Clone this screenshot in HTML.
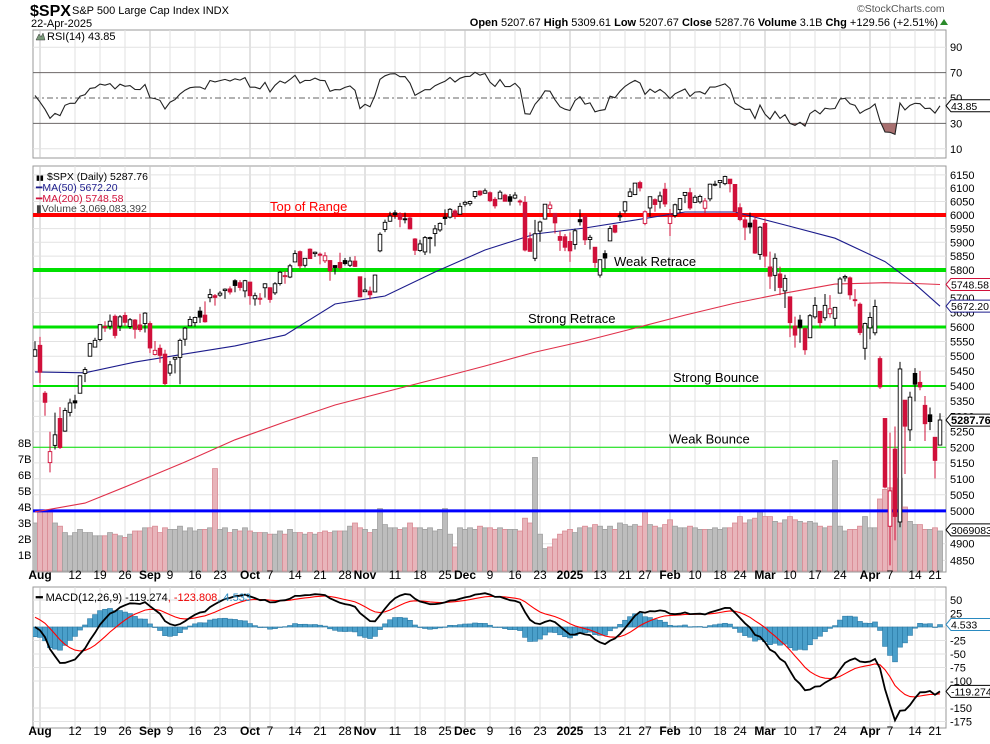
<!DOCTYPE html>
<html><head><meta charset="utf-8">
<style>
html,body{margin:0;padding:0;background:#fff;}
svg{display:block;font-family:"Liberation Sans",Arial,sans-serif;}
</style></head>
<body>
<svg id="chart" width="990" height="744" viewBox="0 0 990 744" xmlns="http://www.w3.org/2000/svg">
<defs>
<clipPath id="clipMain"><rect x="33" y="166" width="913" height="406"/></clipPath>
<clipPath id="clipRsi"><rect x="33" y="30" width="913" height="128"/></clipPath>
<clipPath id="clipRsiLow"><rect x="33" y="123.4" width="913" height="35"/></clipPath>
<clipPath id="clipRsiHigh"><rect x="33" y="30" width="913" height="42.6"/></clipPath>
<clipPath id="clipMacd"><rect x="33" y="587" width="913" height="141"/></clipPath>
</defs>
<g id="header">
<text x="30" y="16" font-size="16" font-weight="bold">$SPX</text>
<text x="72" y="14" font-size="11">S&amp;P 500 Large Cap Index  INDX</text>
<text x="31" y="27" font-size="11">22-Apr-2025</text>
<text x="857" y="12" font-size="10.5" fill="#555">©StockCharts.com</text>
<text x="938" y="26" font-size="11" text-anchor="end"><tspan font-weight="bold">Open</tspan> 5207.67  <tspan font-weight="bold">High</tspan> 5309.61  <tspan font-weight="bold">Low</tspan> 5207.67  <tspan font-weight="bold">Close</tspan> 5287.76  <tspan font-weight="bold">Volume</tspan> 3.1B  <tspan font-weight="bold">Chg</tspan> +129.56 (+2.51%)</text>
<polygon points="940,25 948,25 944,19" fill="#2a8a2a"/>
</g>
<g id="grid"></g>
<g id="rsiG"></g>
<g id="mainG"></g>
<g id="macdG"></g>
<g id="axesG"></g>
</svg>
<script>
// ---- data ----
const opens=[5500,5537,5376,5151,5206,5293,5252,5313,5351,5376,5442,5500,5531,5557,5602,5603,5637,5603,5640,5602,5624,5607,5612,
5612,5506,5527,5507,5443,5490,5496,5558,5604,5615,5655,5641,5702,5709,5711,5727,5733,5762,5755,5726,
5757,5698,5698,5737,5737,5719,5752,5778,5775,5829,5866,5817,5875,5859,5857,5833,5834,5816,5827,5834,5817,5832,5776,
5723,5725,5722,5869,5947,5977,6008,6003,5986,5989,5912,5870,5865,5917,5932,5945,5992,5992,6015,6003,
6040,6042,6069,6089,6081,6083,6058,6060,6074,6068,6063,6052,6047,5913,5842,5941,5985,6024,6006,5921,5920,
5903,5892,5983,5994,5910,5882,5782,5859,5905,5962,5996,6015,6069,6076,6121,5969,6026,6057,6051,6096,
5969,5998,6020,6073,6083,6047,6049,6025,6060,6115,6121,6117,6134,6114,6027,5982,5970,5981,5856,
5969,5811,5781,5786,5726,5705,5603,5624,5594,5563,5635,5654,5632,5646,5630,5718,5772,5772,5695,5679,5527,
5597,5580,5492,5293,4953,5194,4966,5353,5256,5442,5412,5336,5305,5232,5207];
const highs=[5551,5566,5383,5250,5312,5330,5328,5358,5371,5436,5463,5546,5563,5608,5620,5643,5643,5641,5651,5631,5627,5646,5651,
5620,5552,5540,5522,5484,5497,5560,5600,5637,5636,5670,5689,5733,5715,5725,5735,5742,5767,5764,5765,
5758,5720,5718,5753,5739,5757,5796,5796,5822,5871,5870,5843,5878,5866,5863,5864,5835,5817,5862,5843,5847,5850,5776,
5772,5741,5784,5936,5983,6012,6018,6010,6009,5994,5915,5909,5923,5920,5963,5973,6021,6026,6021,6045,
6053,6053,6089,6092,6099,6088,6066,6092,6079,6078,6085,6058,6070,5936,5982,5979,6040,6050,6007,5941,5930,
5936,5950,6021,6001,5927,5882,5837,5871,5960,5964,6014,6051,6100,6118,6128,6017,6069,6062,6087,6120,
6022,6042,6062,6084,6101,6074,6076,6063,6117,6128,6129,6147,6134,6114,6043,5992,6009,5994,5959,
5987,5866,5860,5812,5783,5705,5636,5642,5598,5645,5704,5654,5715,5711,5670,5775,5783,5777,5732,5685,5615,
5651,5695,5500,5293,5247,5267,5481,5353,5381,5460,5450,5367,5329,5232,5310];
const lows=[5500,5410,5302,5120,5193,5195,5250,5300,5325,5376,5413,5500,5530,5550,5583,5591,5561,5586,5602,5593,5560,5583,5581,
5511,5503,5478,5402,5434,5442,5406,5535,5604,5601,5614,5615,5686,5674,5705,5698,5713,5721,5727,5703,
5677,5674,5677,5702,5684,5712,5745,5751,5771,5829,5804,5809,5840,5847,5820,5825,5762,5784,5799,5816,5811,5811,5703,
5723,5696,5722,5864,5937,5975,5986,5955,5969,5947,5854,5865,5854,5860,5885,5938,5963,5987,5985,6003,
6031,6034,6061,6070,6079,6048,6024,6060,6051,6035,6059,6035,5867,5866,5832,5902,5983,6004,5932,5869,5868,
5829,5874,5961,5890,5874,5808,5773,5805,5905,5933,5978,6006,6068,6074,6088,5962,5994,6012,6024,6030,
5923,5990,6007,6044,6019,6045,6042,6004,6051,6107,6100,6111,6084,6009,5977,5908,5932,5858,5837,
5810,5733,5725,5711,5666,5565,5529,5546,5505,5563,5628,5598,5622,5632,5603,5718,5759,5695,5671,5572,5488,
5558,5571,5390,5070,4835,4910,4950,5115,5220,5349,5386,5220,5255,5101,5208];
const closes=[5522,5446,5346,5186,5240,5199,5319,5344,5344,5434,5455,5543,5554,5608,5597,5620,5571,5635,5616,5625,5592,5591,5648,
5528,5520,5503,5408,5471,5496,5554,5596,5626,5633,5634,5618,5713,5703,5718,5732,5722,5745,5738,5762,
5709,5709,5700,5751,5696,5751,5792,5780,5815,5859,5815,5842,5841,5864,5853,5851,5797,5809,5808,5823,5832,5813,5705,
5729,5712,5782,5929,5973,5996,6001,5984,5985,5949,5871,5894,5917,5917,5949,5969,5987,6021,5999,6032,
6047,6050,6087,6075,6090,6053,6034,6085,6051,6051,6074,6050,5872,5867,5931,5974,6040,6037,5971,5907,5882,
5869,5942,5975,5909,5918,5827,5837,5843,5950,5937,5997,6049,6086,6119,6101,6012,6068,6039,6071,6041,
5994,6038,6061,6084,6026,6066,6069,6052,6115,6115,6129,6144,6117,6013,5983,5955,5956,5861,5955,
5850,5778,5842,5738,5770,5615,5572,5599,5522,5639,5675,5615,5675,5663,5668,5768,5777,5712,5693,5581,5612,
5633,5671,5397,5074,5062,4983,5457,5268,5363,5406,5397,5276,5283,5158,5288];
const volumes=[3.0,
3.7,3.7,3.7,3.0,2.8,2.4,2.2,2.4,2.6,2.4,2.4,2.2,2.2,2.2,2.4,2.3,2.2,2.1,2.3,2.5,2.5,2.7,
2.7,2.8,2.4,2.7,2.6,2.6,2.8,2.5,2.7,2.5,2.6,2.6,2.7,6.4,2.6,2.7,2.4,2.6,2.5,2.7,
2.5,2.4,2.4,2.4,2.3,2.3,2.5,2.3,2.6,2.4,2.4,2.3,2.4,2.3,2.4,2.5,2.4,2.5,2.5,2.5,2.8,3.0,2.7,
2.6,2.4,2.6,3.9,2.9,2.7,2.7,2.6,2.7,3.0,2.7,2.7,2.6,2.7,2.5,2.6,3.9,2.3,1.5,2.7,
2.6,2.7,2.6,2.8,2.7,2.7,2.6,2.7,2.6,2.6,2.6,2.5,3.3,3.0,7.1,2.3,1.4,1.5,2.0,2.3,2.5,
2.6,2.4,2.7,2.8,2.7,2.9,2.8,2.6,2.8,2.6,3.0,2.9,2.8,2.9,2.8,3.7,2.9,2.8,2.7,2.9,
3.2,2.8,2.7,2.7,2.8,2.7,2.6,2.6,2.6,2.7,2.6,2.7,2.7,3.0,3.4,3.0,3.2,3.3,3.8,
3.4,3.4,3.1,3.0,3.2,3.4,3.2,3.1,3.0,3.1,3.0,2.8,2.7,2.8,6.9,2.8,2.5,2.6,2.6,2.8,3.4,
2.7,2.7,4.5,5.1,5.2,4.8,5.8,4.0,3.1,2.9,2.9,2.6,2.6,2.7,2.5];
const maIdx=[0,10,20,30,40,50,60,70,80,90,100,110,120,130,140,150,160,170,176,181];
const ma50Vals=[5447,5444,5480,5508,5535,5572,5680,5708,5793,5872,5930,5952,5981,6011,6011,5963,5915,5830,5750,5672];
const ma200Vals=[4997,5024,5087,5153,5224,5282,5337,5380,5423,5467,5514,5552,5596,5641,5683,5718,5750,5755,5752,5748.6];
const xLabels=["Aug","12","19","26","Sep","9","16","23","Oct","7","14","21","28","Nov","11","18","25","Dec","9","16","23","2025","13","21","27","Feb","10","18","24","Mar","10","17","24","Apr","7","14","21"];
const xLabelIdx=[1,8,13,18,23,27,32,37,43,47,52,57,62,66,72,77,82,86,91,96,101,107,113,118,122,127,132,137,141,146,151,156,161,167,171,176,180];
const monthLabels=["Aug","Sep","Oct","Nov","Dec","2025","Feb","Mar","Apr"];
const priceTicks=[4850,4900,5000,5050,5100,5150,5200,5250,5300,5350,5400,5450,5500,5550,5600,5650,5700,5800,5850,5900,5950,6000,6050,6100,6150];
const volTicks=[1,2,3,4,5,6,7,8];
const rsiTicks=[10,30,50,70,90];
const macdTicks=[50,25,0,-25,-50,-75,-100,-150,-175];
const levels=[6000,5800,5600,5400,5200,5000];
const levelNames=["Top of Range","Weak Retrace","Strong Retrace","Strong Bounce","Weak Bounce",""];

// ---- scales ----
const NS="http://www.w3.org/2000/svg";
const xi=i=>35+5*i;
const py=p=>215-1623*Math.log(p/6000);
const vy=b=>571-b*16;
const ry=v=>98-(v-50)*1.27;
const my=v=>627-v*0.54;
function mk(tag,attrs,parent){const e=document.createElementNS(NS,tag);for(const k in attrs)e.setAttribute(k,attrs[k]);parent.appendChild(e);return e;}
const grid=document.getElementById('grid'),rsiG=document.getElementById('rsiG'),mainG=document.getElementById('mainG'),macdG=document.getElementById('macdG'),axesG=document.getElementById('axesG');

[[30,128,'rsi-panel'],[166,406,'price-panel'],[587,141,'macd-panel']].forEach(p=>{
 const r=mk('rect',{x:33,y:p[0],width:913,height:p[1],fill:'#fff',stroke:'#999'},grid);
 
 
});
xLabels.forEach((l,k)=>{
 const x=xi(xLabelIdx[k]);const m=monthLabels.includes(l);
 [[30,158],[166,572],[587,728]].forEach(s=>{
  const ln=mk('line',{x1:x,x2:x,y1:s[0],y2:s[1],stroke:m?'#c4c4c4':'#e2e2e2'},grid);
  
  
 });
 [579,735].forEach(yy=>{
  const t=mk('text',{x:x,y:yy,'font-size':12,'text-anchor':'middle','font-weight':m?'bold':'normal'},axesG);
  t.textContent=l;
  
  
 });
});
priceTicks.forEach(p=>{
 const y=py(p);
 const ln=mk('line',{x1:33,x2:946,y1:y,y2:y,stroke:'#e2e2e2'},grid);
 
 
 const t=mk('text',{x:950,y:y+4,'font-size':11},axesG);t.textContent=p;
 
 
});
volTicks.forEach(b=>{
 const t=mk('text',{x:18,y:vy(b)+4,'font-size':11},axesG);t.textContent=b+'B';
 
 
});
rsiTicks.forEach(v=>{
 const y=ry(v);const strong=(v==30||v==70||v==50);
 const ln=mk('line',{x1:33,x2:946,y1:y,y2:y,stroke:strong?'#666':'#e2e2e2','stroke-dasharray':v==50?'6,3,2,3':'none'},grid);
 
 
 const t=mk('text',{x:950,y:y+4,'font-size':11},axesG);t.textContent=v;
 
 
});
macdTicks.forEach(v=>{
 const y=my(v);
 const ln=mk('line',{x1:33,x2:946,y1:y,y2:y,stroke:'#e2e2e2'},grid);
 
 
 const t=mk('text',{x:950,y:y+4,'font-size':11},axesG);t.textContent=v;
 
 
});

// ---- volume ----
const vg=mk('g',{'clip-path':'url(#clipMain)'},mainG);
volumes.forEach((b,i)=>{
 const down=i>0&&closes[i]<closes[i-1];
 const r=mk('rect',{x:xi(i)-2.5,y:vy(b),width:5,height:571-vy(b),fill:down?'#e8b4ba':'#bdbdbd',stroke:down?'#d98a94':'#a0a0a0','stroke-width':0.8},vg);
 
 
});
const lvWidths=[4,4,3,2,1,3],lvColors=['#ff0000','#00e000','#00e000','#00e000','#00e000','#0000ff'];
const lvLabelX=[270,614,528,673,669,0],lvLabelColor=['#ff0000','#000','#000','#000','#000','#000'];
levels.forEach((p,k)=>{
 const ln=mk('line',{x1:33,x2:946,y1:py(p),y2:py(p),stroke:lvColors[k],'stroke-width':lvWidths[k]},mainG);
 
 
 if(levelNames[k]){const t=mk('text',{x:lvLabelX[k],y:py(p)-4,'font-size':13,fill:lvLabelColor[k]},mainG);t.textContent=levelNames[k];
 
 }
});
function maPath(vals){return maIdx.map((ix,k)=>(k?'L':'M')+xi(ix)+','+py(vals[k]).toFixed(1)).join(' ');}
const m200=mk('path',{d:maPath(ma200Vals),fill:'none',stroke:'#e0304a','stroke-width':1.1},mainG);


const m50=mk('path',{d:maPath(ma50Vals),fill:'none',stroke:'#1c1c8c','stroke-width':1.1},mainG);


const cg=mk('g',{'clip-path':'url(#clipMain)'},mainG);
closes.forEach((c,i)=>{
 const o=opens[i],x=xi(i);
 const red=i>0&&c<closes[i-1];const col=red?'#d0103a':'#000';
 const w=mk('line',{x1:x,x2:x,y1:py(highs[i]),y2:py(lows[i]),stroke:col,'stroke-width':1},cg);
 
 
 const top=py(Math.max(o,c)),bot=py(Math.min(o,c));
 const r=mk('rect',{x:x-1.8,y:top,width:3.6,height:Math.max(1,bot-top),fill:c>=o?'#fff':col,stroke:col,'stroke-width':0.9},cg);
 
 
});

// ---- RSI (Wilder 14) ----
let ag=28,al=26;const rsi=[52];
for(let i=1;i<closes.length;i++){const d=closes[i]-closes[i-1];ag=(ag*13+Math.max(d,0))/14;al=(al*13+Math.max(-d,0))/14;rsi.push(100-100/(1+ag/al));}
const rpts=rsi.map((v,i)=>xi(i)+','+ry(v).toFixed(1));
const rl=mk('path',{d:'M'+rpts.join(' L')+' L'+xi(rsi.length-1)+','+ry(30)+' L'+xi(0)+','+ry(30)+'Z',fill:'#a87070','clip-path':'url(#clipRsiLow)'},rsiG);


const rh=mk('path',{d:'M'+rpts.join(' L')+' L'+xi(rsi.length-1)+','+ry(70)+' L'+xi(0)+','+ry(70)+'Z',fill:'#a87070','clip-path':'url(#clipRsiHigh)'},rsiG);


const rline=mk('path',{d:'M'+rpts.join(' L'),fill:'none',stroke:'#222','stroke-width':1.1,'clip-path':'url(#clipRsi)'},rsiG);



// ---- MACD ----
let e12=closes[0],e26=closes[0],sig=18;const macd=[],sg=[];
closes.forEach((c,i)=>{if(i){e12=e12+(c-e12)*2/13;e26=e26+(c-e26)*2/27;}const m=e12-e26;if(i)sig=sig+(m-sig)*0.2;macd.push(m);sg.push(sig);});
const mg=mk('g',{'clip-path':'url(#clipMacd)'},macdG);
macd.forEach((m,i)=>{const h=m-sg[i];const y0=my(0),y1=my(h);
 const r=mk('rect',{x:xi(i)-2.5,y:Math.min(y0,y1),width:5,height:Math.max(0.5,Math.abs(y1-y0)),fill:'#4a9fca',stroke:'#2c7aa5','stroke-width':0.6},mg);
 
 
});
const sl=mk('path',{d:'M'+sg.map((v,i)=>xi(i)+','+my(v).toFixed(1)).join(' L'),fill:'none',stroke:'#ff0000','stroke-width':1.1},mg);


const ml=mk('path',{d:'M'+macd.map((v,i)=>xi(i)+','+my(v).toFixed(1)).join(' L'),fill:'none',stroke:'#000','stroke-width':1.8},mg);



// ---- legends & value tags ----
function txt(x,y,s,attrs,name){const t=mk('text',Object.assign({x:x,y:y,'font-size':11},attrs||{}),axesG);t.textContent=s;
 
 return t;}
txt(47,40,'RSI(14) 43.85',{},'rsi-legend');
mk('polygon',{points:'36,40 39,34 41,37 43,33 45,40',fill:'#7a9a7a',stroke:'#333','stroke-width':0.5},axesG);
txt(47,180,'$SPX (Daily) 5287.76',{'font-size':10.5},'price-legend');
txt(36,180,'▮▮',{'font-size':7},'price-legend-icon');
txt(36,191,'━MA(50) 5672.20',{'font-size':10.5,fill:'#1c1c8c'},'ma50-legend');
txt(36,202,'━MA(200) 5748.58',{'font-size':10.5,fill:'#d0103a'},'ma200-legend');
txt(36,212,'▮Volume 3,069,083,392',{'font-size':10.5,fill:'#444'},'volume-legend');
const ml2=txt(36,601,'',{'font-size':11},'macd-legend');
ml2.innerHTML='<tspan font-weight="bold">━</tspan> MACD(12,26,9) -119.274<tspan fill="#e00">, -123.808</tspan><tspan fill="#2a8ac0">, 4.533</tspan>';
function tag(y,s,col,name,bold){
 const p=mk('path',{d:`M946,${y} l5,-6 h${bold?42:44} v12 h-${bold?42:44}z`,fill:'#fff',stroke:col},axesG);
 
 
 txt(951,y+4,s,{'font-size':bold?11:10.5,'font-weight':bold?'bold':'normal'},name);
}
tag(ry(43.85),'43.85','#000','rsi-value-tag');
tag(py(5748.58),'5748.58','#d0103a','ma200-value-tag');
tag(py(5672.20),'5672.20','#1c1c8c','ma50-value-tag');
tag(py(5287.76),'5287.76','#000','close-value-tag',true);
tag(vy(3.07)+8,'3069083','#000','volume-value-tag');
tag(my(4.533),'4.533','#2a8ac0','macd-hist-value-tag');
tag(my(-119.274),'-119.274','#000','macd-value-tag');
</script>
</body></html>
